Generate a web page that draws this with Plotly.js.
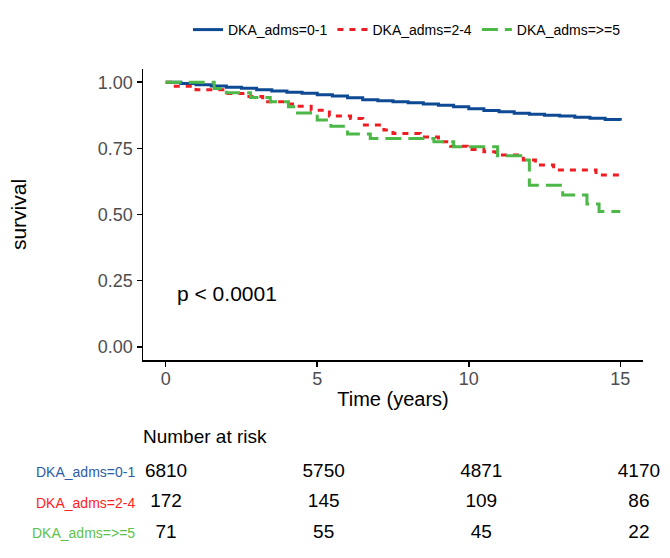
<!DOCTYPE html>
<html>
<head>
<meta charset="utf-8">
<script src="https://cdn.plot.ly/plotly-3.0.1.min.js"></script>
<style>
  html, body { margin: 0; padding: 0; background: #ffffff; }
  #chart { width: 670px; height: 558px; }
</style>
</head>
<body>
<div id="chart"></div>
<script>
// Kaplan-Meier survival by number of DKA admissions, with number-at-risk table.

const groups = ["DKA_adms=0-1", "DKA_adms=2-4", "DKA_adms=>=5"];

// Survival estimates (time in years, step functions)
const timeLow = [0, 0.5, 1, 1.5, 2, 2.5, 3, 3.5, 4, 4.5, 5, 5.5, 6, 6.5, 7, 7.5, 8,
  8.5, 9, 9.5, 10, 10.5, 11, 11.5, 12, 12.5, 13, 13.5, 14, 14.5, 15];
const survLow = [1.000, 0.995, 0.990, 0.986, 0.981, 0.977, 0.972, 0.967, 0.962, 0.958,
  0.953, 0.948, 0.941, 0.934, 0.930, 0.926, 0.922, 0.918, 0.913, 0.907, 0.900,
  0.893, 0.888, 0.883, 0.879, 0.875, 0.872, 0.868, 0.864, 0.859, 0.854];

const timeMid = [0, 0.15, 1.0, 2.0, 2.6, 3.2, 4.0, 4.3, 4.8, 5.4, 6.1, 6.5, 7.2, 7.5,
  8.4, 9.0, 9.4, 9.95, 10.5, 10.9, 11.8, 12.2, 12.8, 14.2, 15];
const survMid = [1.000, 0.985, 0.972, 0.957, 0.946, 0.926, 0.918, 0.909, 0.894, 0.872,
  0.863, 0.838, 0.819, 0.806, 0.793, 0.775, 0.758, 0.746, 0.737, 0.725, 0.706,
  0.687, 0.668, 0.649, 0.645];

const timeHigh = [0, 1.6, 2.0, 2.8, 3.45, 4.05, 4.35, 5.0, 5.45, 6.0, 6.75, 8.85, 9.5,
  10.95, 11.85, 12.0, 13.1, 13.9, 14.3, 15];
const survHigh = [1.000, 0.976, 0.960, 0.942, 0.926, 0.907, 0.884, 0.857, 0.834, 0.804,
  0.787, 0.775, 0.756, 0.722, 0.706, 0.611, 0.574, 0.540, 0.511, 0.511];

// Number at risk
const riskTimes = [0, 5, 10, 15];
const riskLow = [6810, 5750, 4871, 4170];
const riskMid = [172, 145, 109, 86];
const riskHigh = [71, 55, 45, 22];

const pText = "p < 0.0001";

const lineColors = ["#0d4a93", "#ee1c23", "#4cb848"];
const labelColors = ["#2b5ca4", "#ff2222", "#5cc24a"];
const dashes = ["solid", "6px,6px", "16px,7px"];
const FONT = "Liberation Sans, Arial, Helvetica, sans-serif";

const W = 670, H = 558;
const px = v => v / W;
const py = v => 1 - v / H;

const curves = [[timeLow, survLow], [timeMid, survMid], [timeHigh, survHigh]];
const risks = [riskLow, riskMid, riskHigh];

const traces = curves.map((c, i) => ({
  type: "scatter",
  mode: "lines",
  x: c[0],
  y: c[1],
  name: groups[i],
  line: { color: lineColors[i], width: 3, dash: dashes[i], shape: "hv" },
  xaxis: "x",
  yaxis: "y",
  hoverinfo: "skip"
}));

risks.forEach((r, i) => {
  traces.push({
    type: "scatter",
    mode: "text",
    x: riskTimes,
    y: riskTimes.map(() => groups[i]),
    text: r.map(String),
    textposition: "middle center",
    textfont: { family: FONT, size: 19, color: "#000000" },
    showlegend: false,
    xaxis: "x2",
    yaxis: "y2",
    hoverinfo: "skip"
  });
});

const annotations = [
  {
    text: pText, xref: "x", yref: "y", x: 0.3, y: 0.2,
    xanchor: "left", yanchor: "middle", showarrow: false,
    font: { family: FONT, size: 21, color: "#000000" }
  },
  {
    text: "Number at risk", xref: "paper", yref: "paper",
    x: px(141), y: py(436), xanchor: "left", yanchor: "middle", showarrow: false,
    font: { family: FONT, size: 19, color: "#000000" }
  }
];
groups.forEach((g, i) => {
  annotations.push({
    text: g, xref: "paper", yref: "y2", x: px(137), y: g,
    xanchor: "right", yanchor: "middle", showarrow: false,
    font: { family: FONT, size: 14, color: labelColors[i] }
  });
});

const layout = {
  width: W,
  height: H,
  margin: { l: 0, r: 0, t: 0, b: 0 },
  paper_bgcolor: "#ffffff",
  plot_bgcolor: "#ffffff",
  font: { family: FONT },
  showlegend: true,
  legend: {
    orientation: "h",
    x: px(188), xanchor: "left",
    y: py(14), yanchor: "top",
    font: { family: FONT, size: 14, color: "#000000" },
    bgcolor: "rgba(0,0,0,0)"
  },
  xaxis: {
    domain: [px(143), px(643)],
    range: [-0.75, 15.75],
    tickvals: [0, 5, 10, 15],
    showline: true, linecolor: "#000000", linewidth: 1.5,
    ticks: "outside", ticklen: 5, tickwidth: 1.5, tickcolor: "#000000",
    ticklabelstandoff: -3,
    showgrid: false, zeroline: false,
    tickfont: { family: FONT, size: 18, color: "#4d4d4d" },
    title: { text: "Time (years)", font: { family: FONT, size: 20, color: "#000000" }, standoff: 4 },
    anchor: "y"
  },
  yaxis: {
    domain: [py(360), py(69)],
    range: [-0.05, 1.05],
    tickvals: [0, 0.25, 0.5, 0.75, 1],
    ticktext: ["0.00", "0.25", "0.50", "0.75", "1.00"],
    showline: true, linecolor: "#000000", linewidth: 1.5,
    ticks: "outside", ticklen: 5, tickwidth: 1.5, tickcolor: "#000000",
    showgrid: false, zeroline: false,
    tickfont: { family: FONT, size: 18, color: "#4d4d4d" },
    title: { text: "survival", font: { family: FONT, size: 21, color: "#000000" }, standoff: 65 },
    anchor: "x"
  },
  xaxis2: {
    domain: [px(142.4), px(662.6)],
    range: [-0.75, 15.75],
    visible: false,
    anchor: "y2"
  },
  yaxis2: {
    domain: [py(548.25), py(456.75)],
    type: "category",
    categoryorder: "array",
    categoryarray: groups.slice().reverse(),
    range: [-0.5, 2.5],
    visible: false,
    anchor: "x2"
  },
  annotations: annotations
};

Plotly.newPlot("chart", traces, layout, { displayModeBar: false, staticPlot: true });
</script>
</body>
</html>
